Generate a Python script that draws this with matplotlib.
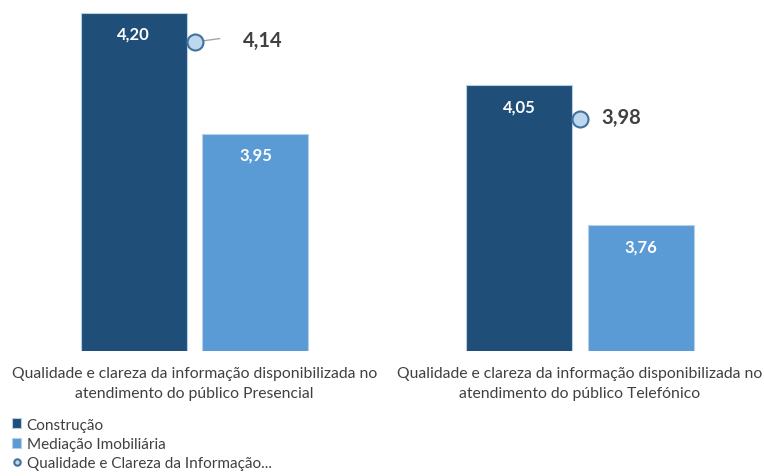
import numpy as np
import matplotlib.pyplot as plt

plt.rcParams['font.family'] = ['Lato', 'DejaVu Sans']

categories = ["Qualidade e clareza da informação disponibilizada no\natendimento do público Presencial",
              "Qualidade e clareza da informação disponibilizada no\natendimento do público Telefónico"]
construcao = [4.20, 4.05]
mediacao = [3.95, 3.76]
qualidade = [4.14, 3.98]
series_names = ["Construção", "Mediação Imobiliária", "Qualidade e Clareza da Informação..."]

dark = '#1f4e79'
light = '#5b9bd5'

fig = plt.figure(figsize=(7.64, 4.77), dpi=100)
ax = fig.add_axes([20 / 764, 0.262, 734 / 764, 0.7086])

x = np.arange(len(categories))
w = 0.275
off = 0.158
b1 = ax.bar(x - off, construcao, w, color=dark, edgecolor='#b7cfe4', linewidth=0.8, label=series_names[0])
b2 = ax.bar(x + off, mediacao, w, color=light, edgecolor='#b7cfe4', linewidth=0.8, label=series_names[1])
ln, = ax.plot(x, qualidade, 'o', ms=11.5, mfc='#bdd7ee', mec='#41719c', mew=1.5,
              linestyle='none', label=series_names[2], zorder=5)

for bars in (b1, b2):
    for rect in bars:
        v = rect.get_height()
        ax.annotate(f"{v:.2f}".replace('.', ','), (rect.get_x() + rect.get_width() / 2, v),
                    xytext=(0, -15), textcoords='offset points', ha='center', va='center',
                    color='white', fontsize=12, fontweight='bold')

# data labels of the markers
label_dx = [0.176, 0.106]
for xi, v, dx in zip(x, qualidade, label_dx):
    ax.text(xi + dx, v + 0.005, f"{v:.2f}".replace('.', ','), ha='center', va='center',
            color='#404040', fontsize=14.5, fontweight='bold')
# leader line for the first label
ax.plot([x[0], x[0] + 0.065], [qualidade[0], qualidade[0] + 0.007], color='#a6a6a6', lw=1, zorder=4)

ax.set_ylim(3.5, 4.2)
ax.set_xlim((20 - 194.5) / 385.5, (754 - 194.5) / 385.5)
ax.set_yticks([])
ax.set_xticks(x)
ax.set_xticklabels(categories, fontsize=11.3, color='#404040', linespacing=1.5)
ax.tick_params(axis='x', length=0, pad=11)
for s in ax.spines.values():
    s.set_visible(False)

leg = fig.legend(handles=[b1, b2, ln], labels=series_names, loc='upper left',
                 bbox_to_anchor=(0.008, 0.135), bbox_transform=fig.transFigure,
                 frameon=False, fontsize=11, handlelength=0.6, handleheight=0.6,
                 handletextpad=0.35, labelspacing=0.35, markerscale=0.4, borderaxespad=0)
for t in leg.get_texts():
    t.set_color('#404040')

fig.savefig('out.png', dpi=100)
